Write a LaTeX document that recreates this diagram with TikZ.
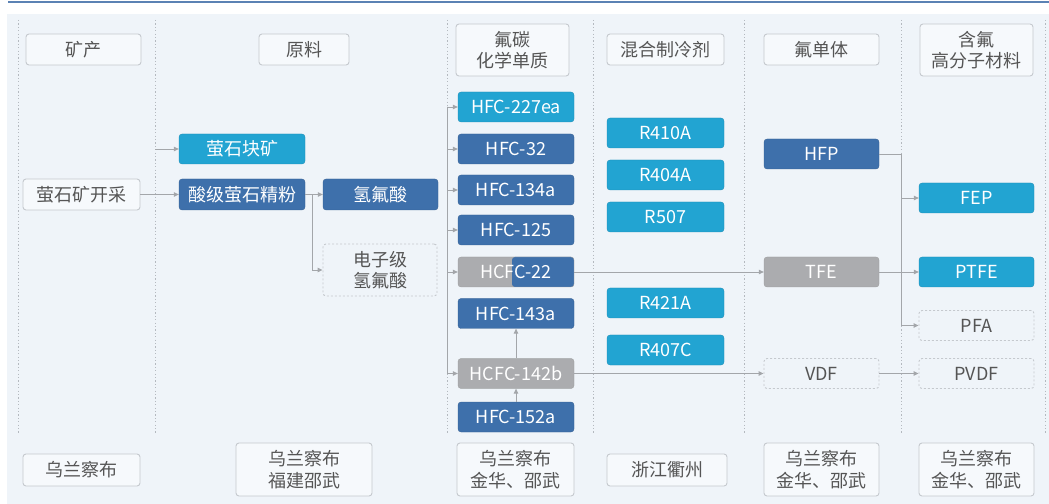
\documentclass[tikz,border=0pt]{standalone}
\usepackage{fontspec}
\setmainfont{Noto Sans CJK SC}
\usetikzlibrary{arrows.meta,calc}
\definecolor{bgc}{HTML}{EFF4F9}
\definecolor{topbar}{HTML}{5B82B4}
\definecolor{cdark}{HTML}{3E70AB}
\definecolor{clight}{HTML}{22A4D2}
\definecolor{cgray}{HTML}{ABACAF}
\definecolor{bordc}{HTML}{C5C9CE}
\definecolor{txtc}{HTML}{555555}
\definecolor{linec}{HTML}{A3A6AA}
\definecolor{dotc}{HTML}{B4B9BF}
\tikzset{
  box/.style={rounded corners=3bp, inner sep=0pt, align=center, font=\fontsize{18bp}{21.5bp}\selectfont},
  plain/.style={box, draw=bordc, line width=0.9bp, fill=white!45!bgc, text=txtc},
  dashbox/.style={box, draw=bordc, line width=0.9bp, dash pattern=on 2bp off 2bp, fill=bgc, text=txtc},
  darkbox/.style={box, fill=cdark, text=white, draw=cdark!85!black, line width=0.3bp},
  lightbox/.style={box, fill=clight, text=white, draw=clight!85!black, line width=0.3bp},
  graybox/.style={box, fill=cgray, text=white, draw=cgray!90!black, line width=0.3bp},
  conn/.style={draw=linec, line width=0.9bp},
  arr/.style={conn, -{Triangle[length=5bp,width=4.5bp]}},
  sep/.style={draw=dotc, line width=0.9bp, dash pattern=on 1.2bp off 2.2bp},
}
\begin{document}
\begin{tikzpicture}[x=1bp,y=-1bp]
\useasboundingbox (0,0) rectangle (1049,504);
\fill[white] (0,0) rectangle (1049,504);
\fill[bgc] (7,14) rectangle (1049,504);
\fill[topbar] (8,0.8) rectangle (1049,3);
% separators
\foreach \x in {18,155,447,593,744,901,1045}
  \draw[sep] (\x,20) -- (\x,433);
% headers
\node[plain, minimum width=115bp, minimum height=31bp] (h1) at (83.5,49.5) {矿产};
\node[plain, minimum width=90bp, minimum height=31bp] (h2) at (304,49.5) {原料};
\node[plain, minimum width=113bp, minimum height=52bp] (h3) at (512.5,50) {氟碳\\化学单质};
\node[plain, minimum width=117bp, minimum height=31bp] (h4) at (665.5,49.5) {混合制冷剂};
\node[plain, minimum width=115bp, minimum height=31bp] (h5) at (821.5,49.5) {氟单体};
\node[plain, minimum width=113bp, minimum height=52bp] (h6) at (976.5,50) {含氟\\高分子材料};
% bottom
\node[plain, minimum width=117bp, minimum height=32bp] (b1) at (81.5,470) {乌兰察布};
\node[plain, minimum width=136bp, minimum height=53bp] (b2) at (304,469.5) {乌兰察布\\福建邵武};
\node[plain, minimum width=117bp, minimum height=53bp] (b3) at (515.5,469.5) {乌兰察布\\金华、邵武};
\node[plain, minimum width=120bp, minimum height=32bp] (b4) at (667,470) {浙江衢州};
\node[plain, minimum width=115bp, minimum height=53bp] (b5) at (821.5,469.5) {乌兰察布\\金华、邵武};
\node[plain, minimum width=115bp, minimum height=53bp] (b6) at (976.5,469.5) {乌兰察布\\金华、邵武};
% column 1-2
\node[plain, minimum width=117bp, minimum height=31bp] (m1) at (81.5,194.5) {萤石矿开采};
\node[lightbox, minimum width=126bp, minimum height=30bp] (m2) at (242,149) {萤石块矿};
\node[darkbox, minimum width=126bp, minimum height=31bp] (m3) at (242,194.5) {酸级萤石精粉};
\node[darkbox, minimum width=115bp, minimum height=31bp] (m4) at (380.5,194.5) {氢氟酸};
\node[dashbox, minimum width=114bp, minimum height=52bp] (m5) at (380,270) {电子级\\氢氟酸};
% HFC column
\tikzset{cc/.style={minimum width=116bp, minimum height=30bp}}
\node[lightbox, cc] (c1) at (516,107) {HFC-227ea};
\node[darkbox, cc] (c2) at (516,149) {HFC-32};
\node[darkbox, cc] (c3) at (516,190) {HFC-134a};
\node[darkbox, cc] (c4) at (516,230) {HFC-125};
\node[graybox, cc, path picture={\fill[cdark] ([xshift=-4bp]path picture bounding box.south) rectangle (path picture bounding box.north east);}] (c5) at (516,272) {HCFC-22};
\node[darkbox, cc] (c6) at (516,313.5) {HFC-143a};
\node[graybox, cc] (c7) at (516,373.5) {HCFC-142b};
\node[darkbox, cc] (c8) at (516,417) {HFC-152a};
% refrigerants
\tikzset{rc/.style={lightbox, minimum width=117bp, minimum height=30bp}}
\node[rc] (r1) at (665.5,133) {R410A};
\node[rc] (r2) at (665.5,175) {R404A};
\node[rc] (r3) at (665.5,217) {R507};
\node[rc] (r4) at (665.5,303) {R421A};
\node[rc] (r5) at (665.5,350) {R407C};
% monomers
\tikzset{mc/.style={minimum width=115bp, minimum height=30bp}}
\node[darkbox, mc] (hfp) at (821.5,154) {HFP};
\node[graybox, mc] (tfe) at (821.5,272) {TFE};
\node[dashbox, mc] (vdf) at (821.5,373.5) {VDF};
% polymers
\node[lightbox, mc] (fep) at (976.5,198) {FEP};
\node[lightbox, mc] (ptfe) at (976.5,272) {PTFE};
\node[dashbox, mc] (pfa) at (976.5,325.5) {PFA};
\node[dashbox, mc] (pvdf) at (976.5,373.5) {PVDF};
% connectors
\coordinate (s1) at (155,149);
\draw[arr] (s1) -- (m2.west);
\draw[arr] (m1.east) -- (m3.west);
\draw[arr] (m3.east) -- (m4.west);
\coordinate (j1) at (312,194.5);
\draw[arr] (j1) |- (m5.west);
\coordinate (bus) at (447,107);
\draw[conn] (bus) -- (447,373.5);
\draw[arr] (bus) -- (c1.west);
\foreach \n in {c2,c3,c4,c5,c7}
  \draw[arr] (bus) |- (\n.west);
\draw[arr] (c8.north) -- (c7.south);
\draw[arr] (c7.north) -- (c6.south);
\draw[arr] (c5.east) -- (tfe.west);
\draw[arr] (c7.east) -- (vdf.west);
\coordinate (hb) at (901,154);
\draw[conn] (hfp.east) -- (hb);
\draw[arr] (hb) |- (fep.west);
\draw[arr] (hb) |- (pfa.west);
\draw[arr] (tfe.east) -- (ptfe.west);
\draw[arr] (vdf.east) -- (pvdf.west);
\end{tikzpicture}
\end{document}
